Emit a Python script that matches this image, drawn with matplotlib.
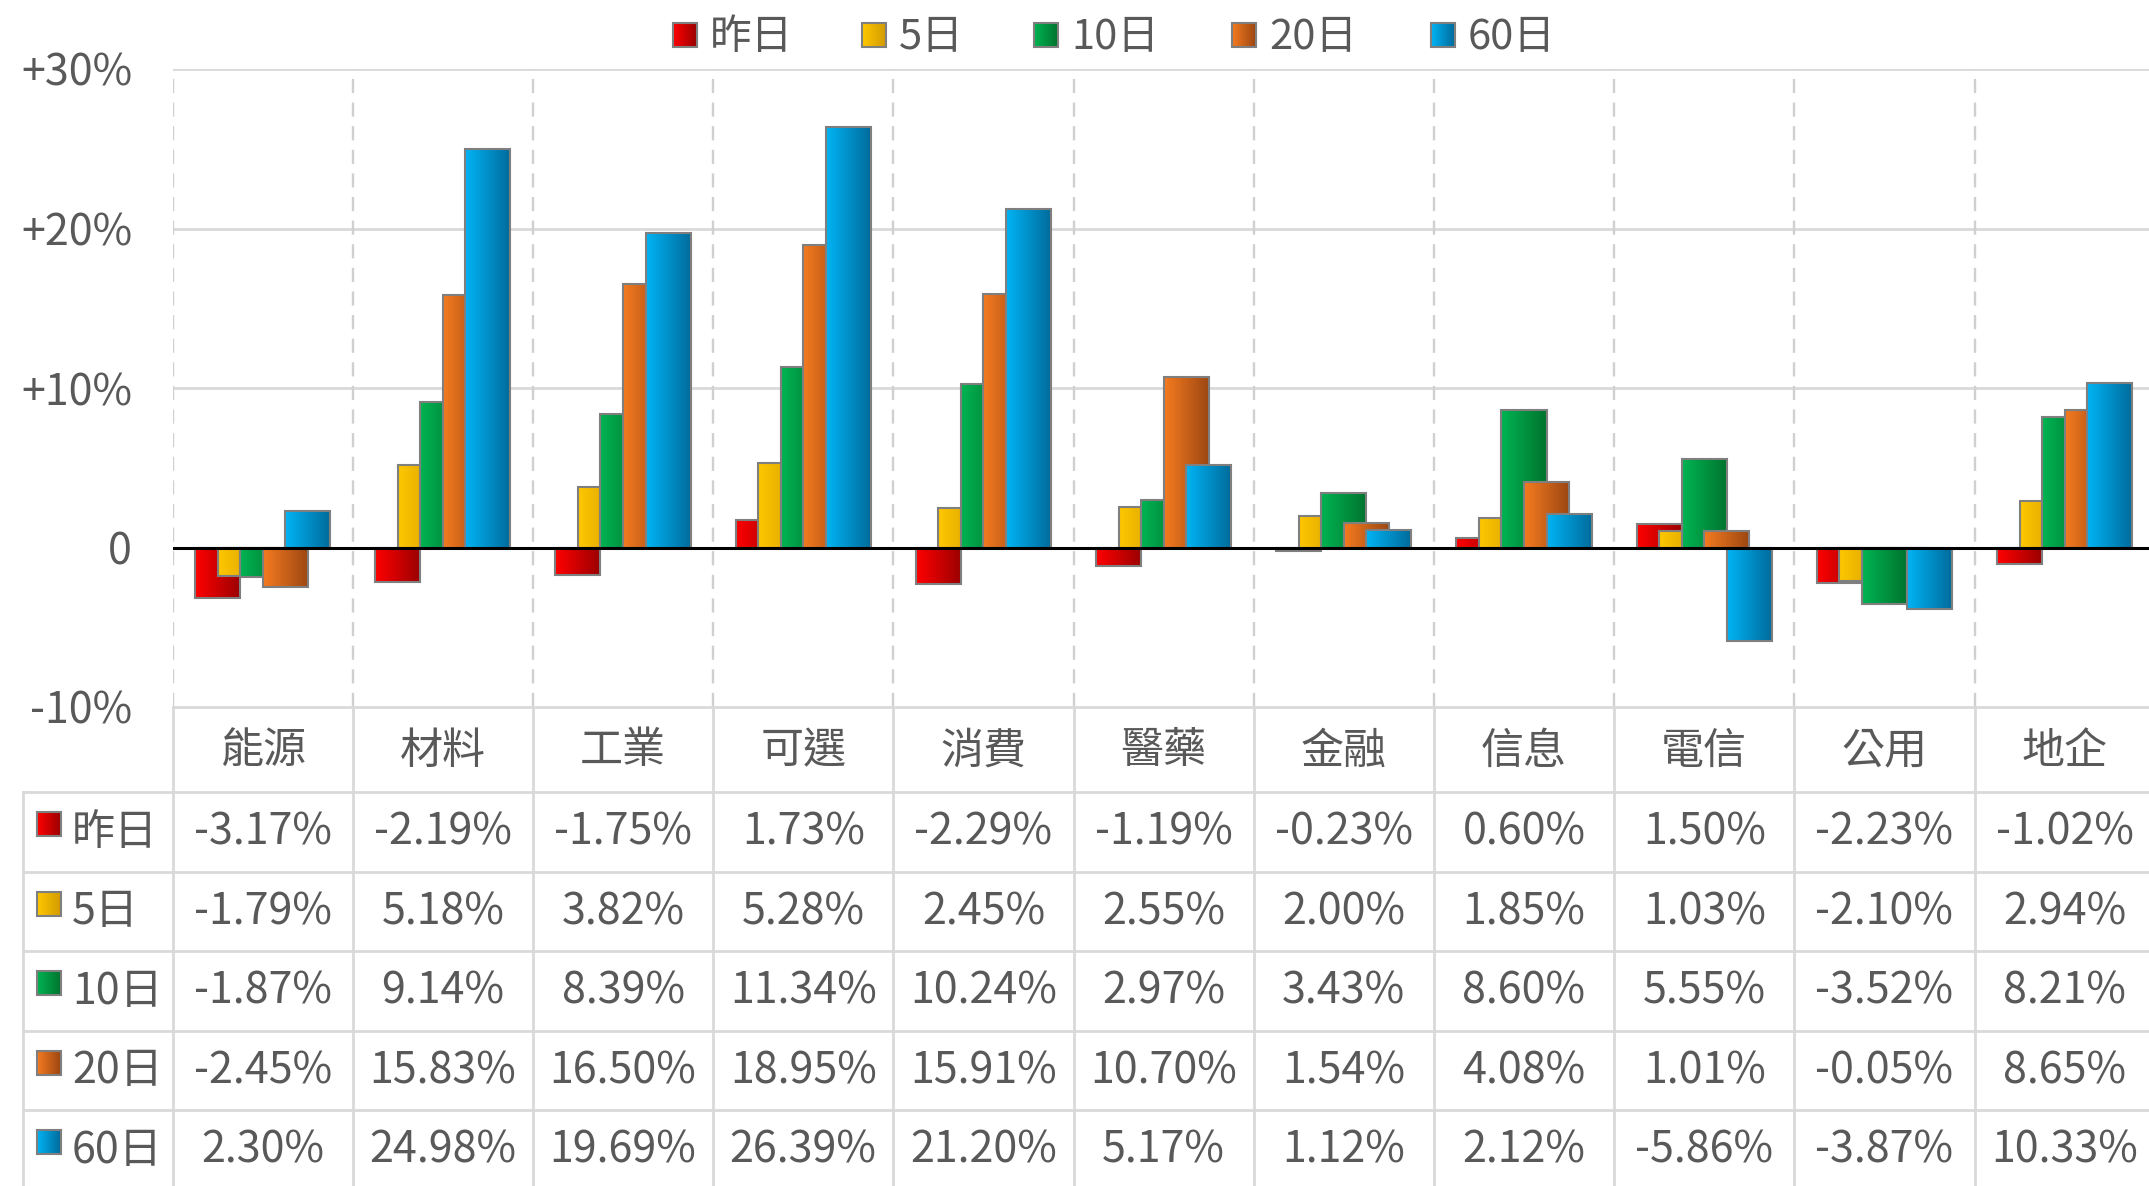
import matplotlib
matplotlib.use("Agg")
import matplotlib.pyplot as plt
from matplotlib.patches import Rectangle
import numpy as np

plt.rcParams['font.family'] = ['Noto Sans CJK TC', 'DejaVu Sans']

# data (percent)
categories = ['能源', '材料', '工業', '可選', '消費', '醫藥', '金融', '信息', '電信', '公用', '地企']
series_names = ['昨日', '5日', '10日', '20日', '60日']
chg_1d = [-3.17, -2.19, -1.75, 1.73, -2.29, -1.19, -0.23, 0.60, 1.50, -2.23, -1.02]
chg_5d = [-1.79, 5.18, 3.82, 5.28, 2.45, 2.55, 2.00, 1.85, 1.03, -2.10, 2.94]
chg_10d = [-1.87, 9.14, 8.39, 11.34, 10.24, 2.97, 3.43, 8.60, 5.55, -3.52, 8.21]
chg_20d = [-2.45, 15.83, 16.50, 18.95, 15.91, 10.70, 1.54, 4.08, 1.01, -0.05, 8.65]
chg_60d = [2.30, 24.98, 19.69, 26.39, 21.20, 5.17, 1.12, 2.12, -5.86, -3.87, 10.33]
all_series = [chg_1d, chg_5d, chg_10d, chg_20d, chg_60d]

# gradient colours (left -> right)
grads = [('#ff0000', '#9a0000'),
         ('#ffc800', '#d29a00'),
         ('#00b452', '#00732e'),
         ('#f47b20', '#9c4612'),
         ('#00b4f5', '#006a9a')]
text_col = '#595959'
line_col = '#d9d9d9'

W, H = 2149, 1186
PLOT_L = 172.5
COL_W = 180.2
Y_TOP, Y_BOT = 69, 707          # +30% and -10% in pixels
ROW_H = 79.5
HEAD_BOT = 792

fig = plt.figure(figsize=(W / 100, H / 100), dpi=100)
n = len(categories)
ax = fig.add_axes([PLOT_L / W, 1 - Y_BOT / H, n * COL_W / W, (Y_BOT - Y_TOP) / H])


def grad_img(c0, c1):
    a = np.array(matplotlib.colors.to_rgb(c0))
    b = np.array(matplotlib.colors.to_rgb(c1))
    t = np.linspace(0, 1, 64)[:, None]
    return (a + (b - a) * t)[None, :, :]


x = np.arange(n)
bw = 0.25
offsets = [-0.25, -0.125, 0, 0.125, 0.25]
for i, vals in enumerate(all_series):
    z = 3 + i * 0.1
    bars = ax.bar(x + offsets[i], vals, width=bw, facecolor='none',
                  edgecolor='#7f7f7f', linewidth=1.5, zorder=z + 0.05)
    img = grad_img(*grads[i])
    for r in bars:
        im = ax.imshow(img, extent=(r.get_x(), r.get_x() + r.get_width(), 0, r.get_height()),
                       aspect='auto', interpolation='bilinear', zorder=z)
        im.set_clip_path(r)

ax.axhline(0, color='black', lw=2.2, zorder=10)
for yv in [10, 20, 30]:
    ax.axhline(yv, color=line_col, lw=2, zorder=1)
for xv in np.arange(n + 1) - 0.5:
    ax.axvline(xv, color='#d0d0d0', lw=1.7, dashes=(6, 4), zorder=1)

ax.set_xlim(-0.5, n - 0.5)
ax.set_ylim(-10, 30)
ax.set_yticks([-10, 0, 10, 20, 30])
ax.set_yticklabels(['-10%', '0', '+10%', '+20%', '+30%'])
ax.tick_params(axis='y', length=0, pad=29, labelsize=31, labelcolor=text_col)
ax.set_xticks([])
for s in ax.spines.values():
    s.set_visible(False)

# overlay in pixel coordinates for legend and data table
ov = fig.add_axes([0, 0, 1, 1], zorder=20)
ov.set_xlim(0, W)
ov.set_ylim(H, 0)
ov.axis('off')
ov.patch.set_alpha(0)


def marker(x0, y0, size, i):
    rect = Rectangle((x0, y0), size, size, facecolor='none', edgecolor='#7f7f7f', lw=1.5, zorder=5)
    ov.add_patch(rect)
    im = ov.imshow(grad_img(*grads[i]), extent=(x0, x0 + size, y0 + size, y0),
                   aspect='auto', interpolation='bilinear', zorder=4)
    im.set_clip_path(rect)


# legend
leg_x = [673, 862, 1034, 1232, 1431]
for i, name in enumerate(series_names):
    marker(leg_x[i], 23, 24, i)
    ov.text(leg_x[i] + 37, 37, name, fontsize=30, color=text_col, ha='left', va='center')

# table
right = PLOT_L + n * COL_W
nrows = len(series_names)
ov.plot([PLOT_L, right], [Y_BOT, Y_BOT], color=line_col, lw=2)
for r in range(nrows + 1):
    yy = HEAD_BOT + r * ROW_H
    ov.plot([23, right], [yy, yy], color=line_col, lw=2)
ov.plot([23, 23], [HEAD_BOT, H + 10], color=line_col, lw=2)
for c in range(n + 1):
    xx = PLOT_L + c * COL_W
    ov.plot([xx, xx], [Y_BOT, H + 10], color=line_col, lw=2)

for c, cat in enumerate(categories):
    ov.text(PLOT_L + (c + 0.5) * COL_W, (Y_BOT + HEAD_BOT) / 2 + 2, cat,
            fontsize=31, color=text_col, ha='center', va='center')

for r, (name, vals) in enumerate(zip(series_names, all_series)):
    top = HEAD_BOT + r * ROW_H
    cy = top + ROW_H / 2 + 1
    marker(37, top + 20, 24, r)
    ov.text(72, cy, name, fontsize=31, color=text_col, ha='left', va='center')
    for c, v in enumerate(vals):
        ov.text(PLOT_L + (c + 0.5) * COL_W, cy, f'{v:.2f}%',
                fontsize=31, color=text_col, ha='center', va='center')

fig.savefig('out.png', dpi=100, facecolor='white')
